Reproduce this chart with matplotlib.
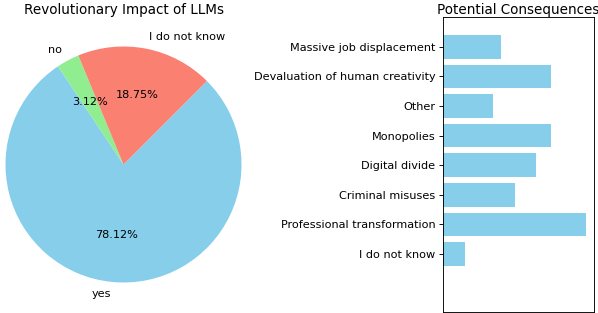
import matplotlib
matplotlib.use("Agg")
import matplotlib.pyplot as plt

# ── Data ──────────────────────────────────────────────────────────────────
pie_labels = ["yes", "no", "I do not know"]
pie_counts = [25, 1, 6]
pie_colors = ["skyblue", "lightgreen", "salmon"]

consequences = [
    "Massive job displacement",
    "Devaluation of human creativity",
    "Other",
    "Monopolies",
    "Digital divide",
    "Criminal misuses",
    "Professional transformation",
    "I do not know",
]
consequence_counts = [8, 15, 7, 15, 13, 10, 20, 3]

# ── Figure ────────────────────────────────────────────────────────────────
DPI = 81
fig = plt.figure(figsize=(598 / DPI, 313 / DPI), dpi=DPI)

W, H = 598.0, 313.0

# pie panel (square box, pie spans 2/2.5 of it)
ax1 = fig.add_axes([-24 / W, 1 - 312 / H, 295 / W, 295 / H])
ax1.pie(
    pie_counts,
    labels=pie_labels,
    colors=pie_colors,
    autopct="%1.2f%%",
    startangle=45,
    counterclock=False,
)
ax1.set_title("Revolutionary Impact of LLMs", pad=3)

# horizontal bars
ax2 = fig.add_axes([443.3 / W, 1 - 312 / H, 150.2 / W, 294.7 / H])
ax2.barh(consequences, consequence_counts, color="skyblue")
ax2.set_ylim(8.96, -1.0)
ax2.set_xticks([])
ax2.set_title("Potential Consequences", pad=3)

fig.savefig("out.png", dpi=DPI)
